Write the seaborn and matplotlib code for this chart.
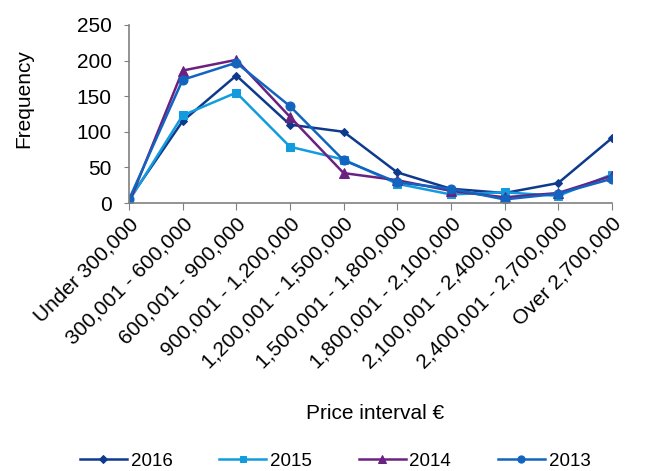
import pandas as pd
import seaborn as sns
import matplotlib.pyplot as plt

# Data
intervals = ['Under 300,000', '300,001 - 600,000', '600,001 - 900,000',
             '900,001 - 1,200,000', '1,200,001 - 1,500,000', '1,500,001 - 1,800,000',
             '1,800,001 - 2,100,000', '2,100,001 - 2,400,000', '2,400,001 - 2,700,000',
             'Over 2,700,000']
freq_2016 = [5, 115, 179, 110, 100, 43, 20, 14, 28, 91]
freq_2015 = [3, 123, 155, 79, 61, 27, 12, 15, 10, 40]
freq_2014 = [0, 186, 201, 121, 42, 32, 17, 8, 14, 38]
freq_2013 = [5, 173, 197, 136, 60, 29, 20, 5, 13, 34]

years = ['2016', '2015', '2014', '2013']
series = [freq_2016, freq_2015, freq_2014, freq_2013]
colors = ['#0E3A8C', '#129CDE', '#6A2180', '#1264BF']
markers = ['D', 's', '^', 'o']
msizes = [4.5, 6, 6.5, 6.5]

plt.rcParams['font.family'] = ['Liberation Sans', 'DejaVu Sans']

fig, ax = plt.subplots(figsize=(6.65, 4.71), dpi=100)
fig.subplots_adjust(left=0.194, right=0.92, top=0.947, bottom=0.569)

for yr, vals, c, m, ms in zip(years, series, colors, markers, msizes):
    df = pd.DataFrame({'interval': intervals, 'freq': vals})
    sns.lineplot(data=df, x='interval', y='freq', ax=ax, color=c, marker=m,
                 markersize=ms, markeredgecolor=c, linewidth=1.8, label=yr,
                 sort=False, legend=False)

ax.set_xlim(0, len(intervals) - 1)
ax.set_ylim(0, 250)
ax.set_yticks(range(0, 251, 50))
ax.set_xticks(range(len(intervals)))
ax.set_xticklabels(intervals, rotation=45, ha='right', rotation_mode='anchor',
                   fontsize=15)
ax.tick_params(axis='y', labelsize=15, length=3.5, pad=9, color='#808080')
ax.tick_params(axis='x', length=5, pad=3, color='#808080')
for s in ['top', 'right']:
    ax.spines[s].set_visible(False)
for s in ['left', 'bottom']:
    ax.spines[s].set_color('#808080')
    ax.spines[s].set_linewidth(1.2)

ax.set_ylabel('')
ax.set_xlabel('')
fig.text(0.036, 0.79, 'Frequency', rotation=90, ha='center', va='center', fontsize=15)
fig.text(0.564, 0.123, 'Price interval €', ha='center', va='center', fontsize=15)

handles = ax.get_lines()[:4]
fig.legend(handles, years, loc='center', ncol=4, frameon=False,
           bbox_to_anchor=(0.504, 0.021), fontsize=13.5, handlelength=2.5,
           columnspacing=2.5, handletextpad=0.2, markerscale=0.8)

fig.savefig('out.png', dpi=100)
